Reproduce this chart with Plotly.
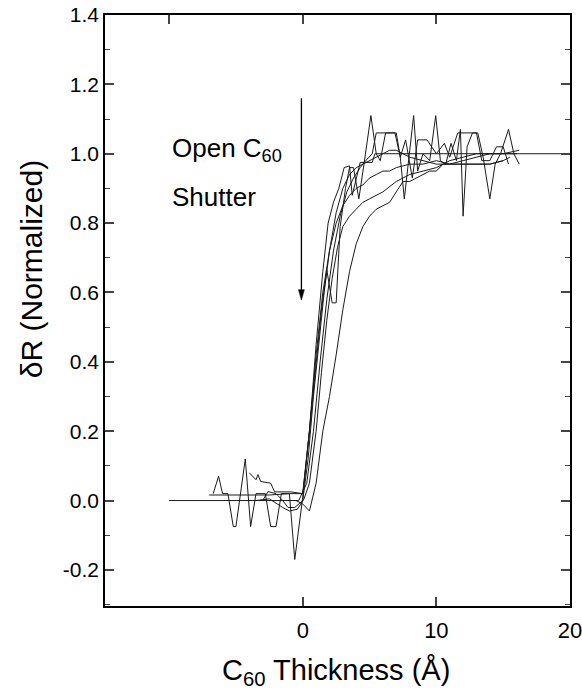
import plotly.graph_objects as go

# ---- data ----
fit_x = [-10, -0.3, 0.3, 0.8, 1.3, 1.8, 2.3, 2.8, 3.3, 3.8, 4.3, 4.6, 5.2, 5.4, 20]
fit_y = [0, 0, 0.05, 0.2, 0.4, 0.58, 0.72, 0.82, 0.89, 0.93, 0.96, 0.975, 0.975, 1.0, 1.0]

a_x = [-6.7, -6.3, -6.0, -5.6, -5.2, -5.0, -4.3, -3.9, -3.5, -2.8, -2.4, -2.0, -1.6, -1.0, -0.6, 0.0,
       0.5, 1.0, 1.4, 1.8, 2.2, 2.5, 2.8, 3.2, 3.5, 3.8, 4.2, 4.6, 5.1, 5.5, 5.8, 6.2, 6.6, 7.0, 7.3,
       7.6, 8.3, 8.6, 9.0, 9.5, 9.95, 10.3, 10.7, 11.1, 11.5, 11.8, 12.0, 12.3, 12.7, 13.1, 13.5, 14.0,
       14.4, 14.8, 15.4, 15.8, 16.2]
a_y = [0.02, 0.07, 0.02, 0.02, -0.075, -0.075, 0.12, -0.075, 0.02, 0.02, -0.075, -0.075, 0.02, 0.02,
       -0.17, 0.01, 0.2, 0.4, 0.55, 0.665, 0.57, 0.57, 0.79, 0.9, 0.96, 0.96, 0.87, 0.975, 1.11, 1.0,
       0.98, 1.06, 1.06, 1.06, 0.99, 0.87, 1.11, 0.95, 1.0, 0.98, 1.11, 0.98, 0.97, 1.03, 0.98, 1.07,
       0.82, 1.02, 1.06, 1.06, 0.99, 0.87, 0.97, 1.0, 1.07, 1.0, 0.97]

b_x = [-4.0, -3.5, -3.35, -3.15, -2.4, -2.1, -0.9, 0.0, 0.5, 1.0, 1.5, 1.9, 2.3, 2.7, 3.1, 3.5, 3.7,
       4.0, 4.3, 4.6, 5.2, 5.5, 6.1, 6.9, 7.3, 7.7, 8.2, 8.6, 9.3, 10.0, 10.6, 11.0, 11.6, 12.2, 13.0,
       13.4, 14.0, 14.5, 15.0, 15.4]
b_y = [0.08, 0.06, 0.075, 0.055, 0.05, 0.025, 0.025, 0.02, 0.2, 0.45, 0.66, 0.8, 0.86, 0.9, 0.96,
       0.965, 0.88, 0.93, 0.975, 0.975, 1.0, 1.06, 1.06, 1.06, 0.99, 1.04, 0.93, 1.04, 1.04, 1.0, 1.03,
       0.99, 1.06, 1.06, 1.06, 0.98, 0.98, 1.02, 1.02, 0.97]

c_x = [-7.0, -5.5, -4.0, -2.5, -1.0, 0.0, 0.5, 1.0, 1.5, 2.0, 2.5, 3.0, 3.5, 4.0, 4.5, 5.0, 5.5, 6.0,
       6.5, 7.0, 8.0, 9.0, 10.0, 11.0, 12.0, 13.0, 14.0, 15.0, 16.2]
c_y = [0.016, 0.016, 0.016, 0.016, 0.02, 0.02, 0.2, 0.42, 0.6, 0.72, 0.8, 0.85, 0.88, 0.9, 0.91, 0.93,
       0.94, 0.95, 0.95, 0.96, 0.97, 0.97, 0.98, 0.97, 0.98, 0.99, 1.0, 1.0, 1.01]

d_x = [-3.0, -2.6, -2.0, -1.5, -1.1, -0.6, 0.0, 0.4, 0.8, 1.2, 1.6, 2.0, 2.5, 3.0, 3.5, 4.0, 4.5, 5.0,
       5.5, 6.0, 6.5, 7.0, 7.5, 8.0, 9.0, 10.0, 11.0, 12.0, 13.0, 14.0, 15.0]
d_y = [0.0, 0.026, 0.02, 0.0, -0.02, -0.02, 0.0, 0.12, 0.3, 0.46, 0.6, 0.72, 0.83, 0.9, 0.94, 0.96,
       0.97, 0.98, 0.99, 1.0, 1.01, 1.01, 1.0, 0.99, 0.98, 0.97, 0.97, 0.97, 0.97, 0.97, 0.98]

e_x = [-3.5, -2.5, -1.5, -1.0, -0.4, 0.1, 0.5, 1.0, 1.4, 1.8, 2.2, 2.6, 3.0, 3.5, 4.0, 4.5, 5.0, 5.5,
       6.0, 7.0, 8.0, 9.0, 10.0, 10.5, 11.0, 12.0, 13.0, 14.0, 15.0, 16.0]
e_y = [0.0, 0.005, -0.02, -0.03, -0.025, 0.005, 0.05, 0.2, 0.37, 0.52, 0.64, 0.73, 0.79, 0.82, 0.84,
       0.86, 0.87, 0.88, 0.89, 0.92, 0.94, 0.95, 0.96, 0.97, 0.98, 0.99, 1.0, 1.0, 1.0, 1.0]

f_x = [-0.5, 0.0, 0.5, 1.0, 1.5, 2.0, 2.5, 3.0, 3.5, 4.0, 4.5, 5.0, 5.5, 6.0, 6.5, 7.0, 7.5, 8.0, 8.5,
       9.0, 9.5, 10.0, 10.5, 11.0, 12.0, 13.0, 14.0, 15.0, 15.5]
f_y = [0.0, -0.01, -0.03, 0.05, 0.2, 0.3, 0.42, 0.55, 0.66, 0.74, 0.79, 0.82, 0.84, 0.85, 0.86, 0.89,
       0.92, 0.92, 0.93, 0.94, 0.95, 0.95, 0.97, 0.97, 0.97, 0.97, 0.97, 0.98, 0.99]

series = [(fit_x, fit_y), (a_x, a_y), (b_x, b_y), (c_x, c_y), (d_x, d_y), (e_x, e_y), (f_x, f_y)]

x_range = [-14.8, 20.001]
y_range = [-0.304, 1.4]
y_ticks = [-0.2, 0.0, 0.2, 0.4, 0.6, 0.8, 1.0, 1.2, 1.4]
x_ticks = [0, 10, 20]
top_ticks = [-10, 0, 10]

# shutter arrow (data coordinates)
arrow_x = -0.1
arrow_top = 1.16
arrow_tip = 0.578

FONT = "Liberation Sans, Arial, sans-serif"

fig = go.Figure()
for sx, sy in series:
    fig.add_trace(go.Scatter(x=sx, y=sy, mode="lines",
                             line=dict(color="#1a1a1a", width=1), showlegend=False,
                             hoverinfo="skip"))

# dummy trace to activate secondary (mirror) axes
fig.add_trace(go.Scatter(x=[None], y=[None], xaxis="x2", yaxis="y2", showlegend=False))

fig.update_layout(
    width=582, height=693,
    margin=dict(l=105, r=12, t=15, b=87, autoexpand=False),
    paper_bgcolor="white", plot_bgcolor="white",
    font=dict(family=FONT, color="black"),
    xaxis=dict(range=x_range, tickvals=x_ticks, ticktext=[str(v) for v in x_ticks],
               ticks="inside", ticklen=9, tickwidth=1.5, showgrid=False, zeroline=False,
               showline=True, linewidth=1.5, linecolor="black", automargin=False,
               tickfont=dict(size=22, family=FONT), ticklabelstandoff=4,
               ticklabeloverflow="allow"),
    yaxis=dict(range=y_range, tickvals=y_ticks, ticktext=["%.1f" % v for v in y_ticks],
               ticks="inside", ticklen=9, tickwidth=1.5, showgrid=False, zeroline=False,
               showline=True, linewidth=1.5, linecolor="black", automargin=False,
               tickfont=dict(size=21, family=FONT), ticklabeloverflow="allow",
               minor=dict(dtick=0.1, tick0=0, ticks="inside", ticklen=5, tickwidth=1.2,
                          showgrid=False)),
    xaxis2=dict(range=x_range, overlaying="x", side="top", tickvals=top_ticks,
                ticks="inside", ticklen=9, tickwidth=1.5, showticklabels=False,
                automargin=False,
                showgrid=False, zeroline=False, showline=True, linewidth=1.5, linecolor="black"),
    yaxis2=dict(range=y_range, overlaying="y", side="right", tickvals=y_ticks,
                ticks="inside", ticklen=9, tickwidth=1.5, showticklabels=False,
                automargin=False,
                showgrid=False, zeroline=False, showline=True, linewidth=1.5, linecolor="black",
                minor=dict(dtick=0.1, tick0=0, ticks="inside", ticklen=5, tickwidth=1.2,
                           showgrid=False)),
)

# axis titles
fig.add_annotation(text="δR (Normalized)", xref="paper", yref="paper",
                   x=-0.159, y=0.57, textangle=-90, showarrow=False,
                   font=dict(size=30, family=FONT), xanchor="center", yanchor="middle")
fig.add_annotation(text="C<sub>60</sub> Thickness (Å)", xref="paper", yref="paper",
                   x=0.497, y=-0.112, showarrow=False,
                   font=dict(size=29, family=FONT), xanchor="center", yanchor="middle")

# shutter annotation text
fig.add_annotation(text="Open C<sub>60</sub>", x=-9.9, y=1.012, xref="x", yref="y",
                   showarrow=False, xanchor="left", yanchor="middle",
                   font=dict(size=26, family=FONT))
fig.add_annotation(text="Shutter", x=-9.9, y=0.876, xref="x", yref="y",
                   showarrow=False, xanchor="left", yanchor="middle",
                   font=dict(size=26, family=FONT))

# arrow: shaft + filled head as shapes
fig.add_shape(type="line", xref="x", yref="y", x0=arrow_x, x1=arrow_x,
              y0=arrow_top, y1=arrow_tip + 0.02, line=dict(color="black", width=1.3))
fig.add_shape(type="path", xref="x", yref="y",
              path="M %f,%f L %f,%f L %f,%f Z" % (arrow_x - 0.22, arrow_tip + 0.03,
                                                 arrow_x + 0.22, arrow_tip + 0.03,
                                                 arrow_x, arrow_tip),
              fillcolor="black", line=dict(color="black", width=0.5))

fig.write_html("out.html")
